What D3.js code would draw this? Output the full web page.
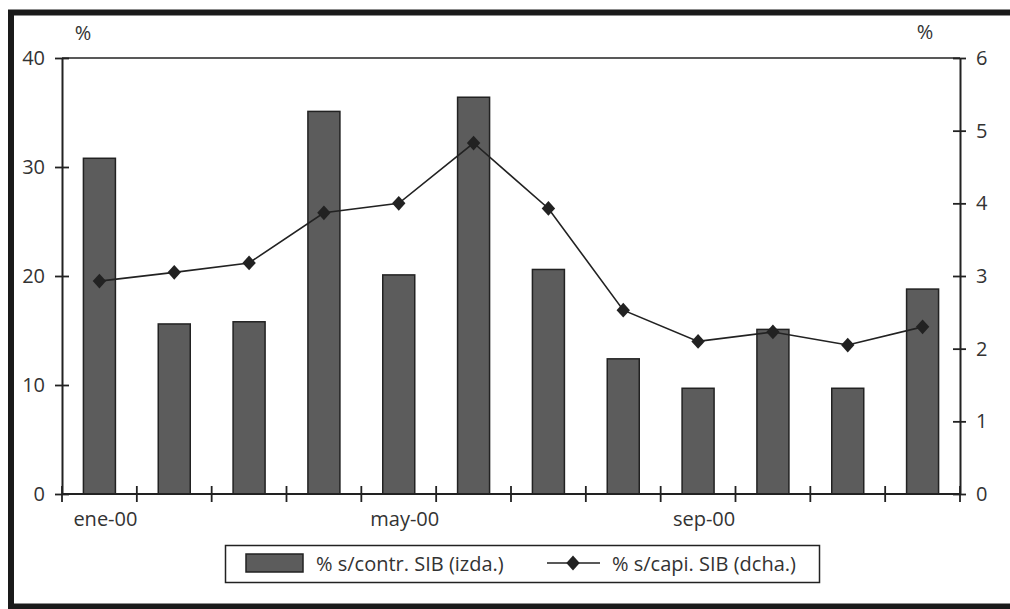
<!DOCTYPE html>
<html><head><meta charset="utf-8">
<script src="https://cdn.jsdelivr.net/npm/d3@7"></script>
<style>
body{margin:0;background:#fff;}
svg{display:block;font-family:"Open Sans",sans-serif;}
</style></head>
<body><svg id="c" width="1010" height="609"></svg>
<script>
const months = ["ene-00","feb-00","mar-00","abr-00","may-00","jun-00","jul-00","ago-00","sep-00","oct-00","nov-00","dic-00"];
const xLabels = ["ene-00","may-00","sep-00"];
const barValues = [30.8, 15.6, 15.8, 35.1, 20.1, 36.4, 20.6, 12.4, 9.7, 15.1, 9.7, 18.8];
const lineValues = [2.93, 3.05, 3.18, 3.87, 4.0, 4.83, 3.93, 2.53, 2.1, 2.23, 2.05, 2.3];
const leftTicks = [0, 10, 20, 30, 40];
const rightTicks = [0, 1, 2, 3, 4, 5, 6];
const barName = "% s/contr. SIB (izda.)";
const lineName = "% s/capi. SIB (dcha.)";

const svg = d3.select("#c");
const L = 62, R = 960, T = 58, B = 494;
const ink = "#222";
const txt = "#333";

// frame
svg.append("rect").attr("x", 11).attr("y", 12.5).attr("width", 1100).attr("height", 594)
  .attr("fill", "none").attr("stroke", "#1a1a1a").attr("stroke-width", 6);

const xb = d3.scaleBand().domain(months).range([L, R]);
const yL = d3.scaleLinear().domain([0, 40]).range([B, T]);
const yR = d3.scaleLinear().domain([0, 6]).range([B, T]);

// top border of plot
svg.append("line").attr("x1", L).attr("x2", R).attr("y1", T).attr("y2", T)
  .attr("stroke", ink).attr("stroke-width", 1.5);

// bars
svg.append("g").selectAll("rect").data(barValues).join("rect")
  .attr("x", (d, i) => xb(months[i]) + xb.bandwidth() / 2 - 16)
  .attr("width", 32)
  .attr("y", d => yL(d))
  .attr("height", d => B - yL(d))
  .attr("fill", "#5c5c5c").attr("stroke", ink).attr("stroke-width", 1.5);

// axes
const styleAxis = g => {
  g.select(".domain").attr("stroke", ink).attr("stroke-width", 2);
  g.selectAll(".tick line").attr("stroke", ink).attr("stroke-width", 1.8);
  g.selectAll("text").attr("fill", txt).style("font-size", "20px").style("font-family", "'Open Sans',sans-serif");
};
const gl = svg.append("g").attr("transform", `translate(${L},0)`)
  .call(d3.axisLeft(yL).tickValues(leftTicks).tickFormat(d3.format("d")).tickSizeInner(7).tickSizeOuter(0).tickPadding(10))
  .call(styleAxis);
gl.selectAll(".tick line").attr("x2", 7).attr("x1", -7);

const gr = svg.append("g").attr("transform", `translate(${R},0)`)
  .call(d3.axisRight(yR).tickValues(rightTicks).tickFormat(d3.format("d")).tickSizeInner(6).tickSizeOuter(0).tickPadding(10))
  .call(styleAxis);
gr.selectAll(".tick line").attr("x1", -7).attr("x2", 6);

// bottom axis with ticks at band boundaries
const boundaries = d3.range(months.length + 1).map(i => L + i * xb.step());
const gb = svg.append("g");
gb.append("line").attr("x1", L).attr("x2", R).attr("y1", B).attr("y2", B).attr("stroke", ink).attr("stroke-width", 2);
gb.selectAll("line.t").data(boundaries).join("line").attr("class", "t")
  .attr("x1", d => d).attr("x2", d => d).attr("y1", B - 8).attr("y2", B + 8)
  .attr("stroke", ink).attr("stroke-width", 1.8);
gb.selectAll("text").data(xLabels).join("text")
  .attr("x", d => xb(d) + xb.bandwidth() / 2 + 6)
  .attr("y", 526).attr("text-anchor", "middle")
  .attr("fill", txt).style("font-size", "20px").text(d => d);

// % unit labels
svg.append("text").attr("x", 83).attr("y", 40).attr("text-anchor", "middle").attr("fill", txt).style("font-size", "20px").text("%");
svg.append("text").attr("x", 925).attr("y", 39).attr("text-anchor", "middle").attr("fill", txt).style("font-size", "20px").text("%");

// line
const cx = (d, i) => xb(months[i]) + xb.bandwidth() / 2;
svg.append("path").datum(lineValues)
  .attr("d", d3.line().x(cx).y(d => yR(d)))
  .attr("fill", "none").attr("stroke", ink).attr("stroke-width", 1.6);
const marker = d3.symbol().type(d3.symbolSquare).size(90);
svg.append("g").selectAll("path").data(lineValues).join("path")
  .attr("transform", (d, i) => `translate(${cx(d, i)},${yR(d)}) scale(1,1.1) rotate(45)`)
  .attr("d", marker)
  .attr("fill", ink);

// legend
const lg = svg.append("g");
lg.append("rect").attr("x", 225.5).attr("y", 545.5).attr("width", 594).attr("height", 37)
  .attr("fill", "#fff").attr("stroke", ink).attr("stroke-width", 1.5);
lg.append("rect").attr("x", 246).attr("y", 554).attr("width", 57).attr("height", 18)
  .attr("fill", "#5c5c5c").attr("stroke", ink).attr("stroke-width", 1.5);
lg.append("text").attr("x", 316).attr("y", 571).attr("fill", txt).style("font-size", "20px").text(barName);
lg.append("line").attr("x1", 547).attr("x2", 600).attr("y1", 563).attr("y2", 563).attr("stroke", ink).attr("stroke-width", 1.6);
lg.append("path").attr("transform", "translate(573,563) scale(1,1.1) rotate(45)")
  .attr("d", marker).attr("fill", ink);
lg.append("text").attr("x", 612).attr("y", 571).attr("fill", txt).style("font-size", "20px").text(lineName);
</script></body></html>
